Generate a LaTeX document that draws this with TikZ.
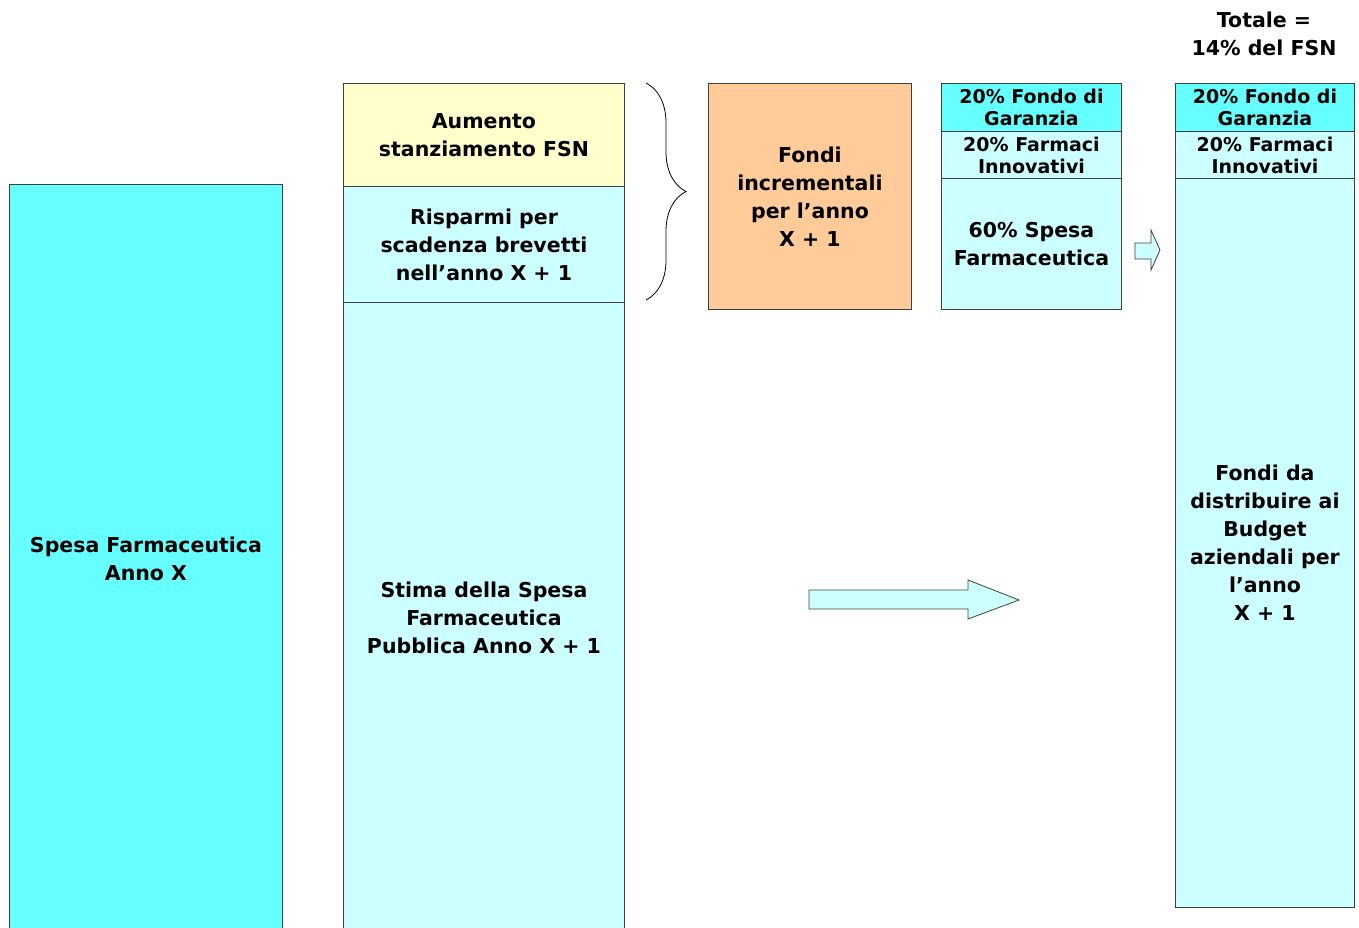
\documentclass[tikz,border=0pt]{standalone}
\usepackage{fontspec}
\setmainfont{DejaVu Sans}
\usepackage{tikz}
\usetikzlibrary{decorations.pathreplacing}
\definecolor{cyanfill}{HTML}{66FFFF}
\definecolor{palecyan}{HTML}{CCFFFF}
\definecolor{paleyellow}{HTML}{FFFFCC}
\definecolor{peach}{HTML}{FFCC99}
\newcommand{\bigtxt}{\bfseries\fontsize{20.5}{28}\selectfont}
\newcommand{\smalltxt}{\bfseries\fontsize{19}{22}\selectfont}

\begin{document}
\begin{tikzpicture}[x=1pt, y=-1pt, line width=0.9pt,
  blk/.style={draw=black!75, inner sep=0pt, align=center, anchor=north west, font=\bigtxt},
  slim/.style={blk, font=\smalltxt},
  blockarrow/.style={draw=black!75, fill=palecyan, line width=0.8pt, line join=miter}]
  \useasboundingbox (0,0) rectangle (1359,927);
  \clip (0,0) rectangle (1359,927);

  % first column: year X
  \node[blk, fill=cyanfill, minimum width=273pt, minimum height=748pt] (spesaX) at (9,184)
       {Spesa Farmaceutica\\Anno X};

  % second column: year X + 1
  \node[blk, fill=paleyellow, minimum width=281pt, minimum height=103pt] (aumento) at (343,83)
       {Aumento\\stanziamento FSN};
  \node[blk, fill=palecyan, minimum width=281pt, minimum height=116pt] (risparmi) at (343,186)
       {Risparmi per\\scadenza brevetti\\nell’anno X + 1};
  \node[blk, fill=palecyan, minimum width=281pt, minimum height=630pt] (stima) at (343,302)
       {Stima della Spesa\\Farmaceutica\\Pubblica Anno X + 1};

  % brace and incremental funds
  \draw[line width=0.8pt, decorate, decoration={brace, amplitude=40pt}] (646,83) -- (646,300);
  \node[blk, fill=peach, minimum width=203pt, minimum height=226pt] (fondi) at (708,83)
       {Fondi\\incrementali\\per l’anno\\X + 1};

  % split of the incremental funds
  \node[slim, fill=cyanfill, minimum width=180pt, minimum height=48pt] (garanziaA) at (941,83)
       {20\% Fondo di\\Garanzia};
  \node[slim, fill=palecyan, minimum width=180pt, minimum height=47pt] (innovA) at (941,131)
       {20\% Farmaci\\Innovativi};
  \node[blk, fill=palecyan, minimum width=180pt, minimum height=131pt] (spesaA) at (941,178)
       {60\% Spesa\\Farmaceutica};

  % block arrows
  \draw[blockarrow] (1135,243) -- (1151,243) -- (1151,230) -- (1160,250)
       -- (1151,270) -- (1151,259) -- (1135,259) -- cycle;
  \draw[blockarrow] (809,590) -- (968,590) -- (968,580) -- (1019,600)
       -- (968,619) -- (968,609) -- (809,609) -- cycle;

  % total column
  \node[font=\bigtxt, align=center] (totale) at (1264,34) {Totale =\\14\% del FSN};
  \node[slim, fill=cyanfill, minimum width=179pt, minimum height=48pt] (garanziaB) at (1175,83)
       {20\% Fondo di\\Garanzia};
  \node[slim, fill=palecyan, minimum width=179pt, minimum height=47pt] (innovB) at (1175,131)
       {20\% Farmaci\\Innovativi};
  \node[blk, fill=palecyan, minimum width=179pt, minimum height=729pt] (budget) at (1175,178)
       {Fondi da\\distribuire ai\\Budget\\aziendali per\\l’anno\\X + 1};
\end{tikzpicture}
\end{document}
